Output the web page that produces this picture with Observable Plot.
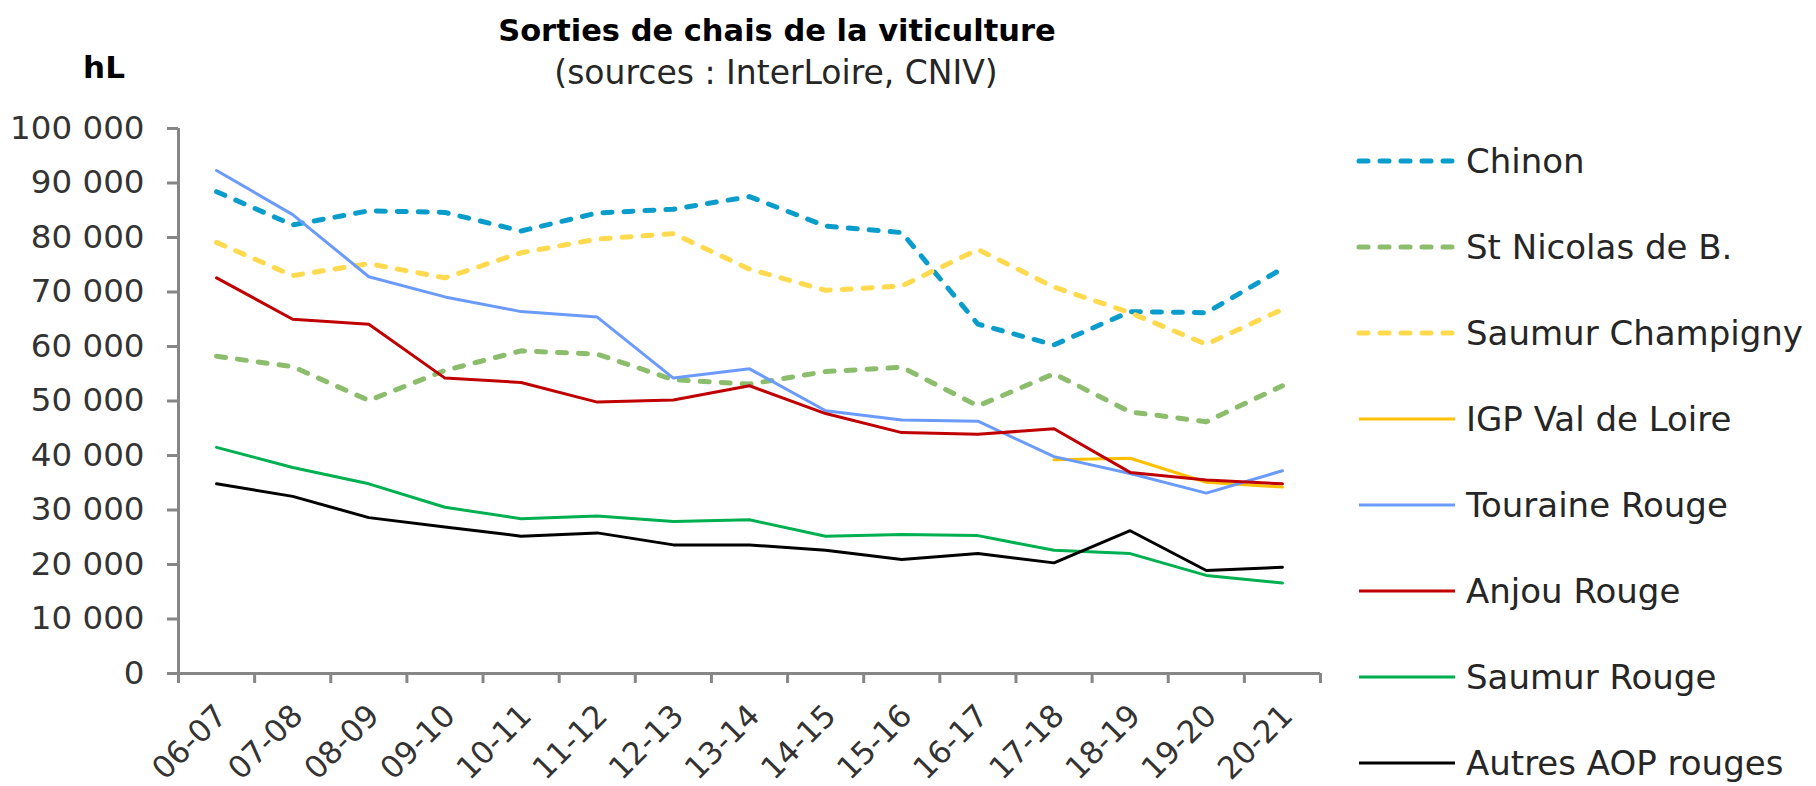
<!DOCTYPE html>
<html>
<head>
<meta charset="utf-8">
<script src="https://cdn.jsdelivr.net/npm/d3@7"></script>
<script src="https://cdn.jsdelivr.net/npm/@observablehq/plot@0.6"></script>
<style>
html, body { margin: 0; padding: 0; background: #fff; }
#wrap { position: relative; width: 1816px; height: 786px; overflow: hidden; font-family: "DejaVu Sans", sans-serif; }
#wrap svg { position: absolute; left: 0; top: 0; }
</style>
</head>
<body>
<div id="wrap"></div>
<script>
// ---- Data ----
const categories = ["06-07","07-08","08-09","09-10","10-11","11-12","12-13","13-14","14-15","15-16","16-17","17-18","18-19","19-20","20-21"];

const chinon      = [88400, 82300, 84900, 84600, 81200, 84500, 85200, 87500, 82100, 80900, 64100, 60300, 66400, 66200, 74300];
const stNicolas   = [58200, 56300, 50100, 55600, 59200, 58600, 53900, 53100, 55400, 56200, 49100, 55000, 48000, 46200, 52800];
const champigny   = [79100, 73000, 75200, 72600, 77200, 79700, 80700, 74200, 70300, 71100, 77800, 70900, 66200, 60400, 66800];
const igpValLoire = [null, null, null, null, null, null, null, null, null, null, null, 39200, 39500, 35100, 34200];
const touraine    = [92300, 84200, 72800, 69100, 66400, 65400, 54200, 55900, 48200, 46500, 46300, 39800, 36700, 33100, 37200];
const anjou       = [72600, 65000, 64100, 54200, 53400, 49800, 50200, 52800, 47700, 44200, 43900, 44900, 36900, 35500, 34800];
const saumurRouge = [41500, 37800, 34800, 30500, 28400, 28900, 27900, 28200, 25200, 25500, 25300, 22600, 22000, 18000, 16600];
const autres      = [34800, 32500, 28600, 26900, 25200, 25800, 23600, 23600, 22600, 20900, 22000, 20300, 26200, 18900, 19500];

const seriesNames  = ["Chinon", "St Nicolas de B.", "Saumur Champigny", "IGP Val de Loire", "Touraine Rouge", "Anjou Rouge", "Saumur Rouge", "Autres AOP rouges"];
const seriesValues = [chinon, stNicolas, champigny, igpValLoire, touraine, anjou, saumurRouge, autres];
const seriesColors = ["#0A9DCB", "#8CBD6C", "#FFD94E", "#FFC000", "#6B9BFA", "#C00000", "#00B050", "#000000"];
const seriesDashed = [true, true, true, false, false, false, false, false];

const yTicks = [0, 10000, 20000, 30000, 40000, 50000, 60000, 70000, 80000, 90000, 100000];

const title = "Sorties de chais de la viticulture";
const subtitle = "(sources : InterLoire, CNIV)";
const unit = "hL";

// ---- Build table ----
const table = [];
seriesNames.forEach((name, s) => {
  seriesValues[s].forEach((v, i) => {
    if (v != null) table.push({series: name, i, season: categories[i], value: v});
  });
});

const fmt = d => d3.format(",")(d).replace(/,/g, " ");
const axisColor = "#868686";
const textColor = "#333333";

const lineMarks = seriesNames.map((name, s) =>
  Plot.line(table.filter(d => d.series === name), {
    x: "i", y: "value",
    stroke: seriesColors[s],
    strokeWidth: seriesDashed[s] ? 5 : 3,
    strokeDasharray: seriesDashed[s] ? "9,12" : null,
    strokeLinecap: "round",
    strokeLinejoin: "round"
  })
);

const plot = Plot.plot({
  width: 1816,
  height: 786,
  marginLeft: 178,
  marginRight: 496,
  marginTop: 128,
  marginBottom: 113,
  x: {type: "linear", domain: [-0.5, categories.length - 0.5], label: null},
  y: {domain: [0, 100000], label: null},
  style: {fontFamily: "DejaVu Sans, sans-serif", fontSize: "32px", color: textColor, background: "transparent", overflow: "visible"},
  marks: [
    Plot.axisY(yTicks, {tickSize: 11, tickPadding: 23, tickFormat: fmt, stroke: axisColor, strokeWidth: 3, fill: textColor, fontSize: 32.5}),
    Plot.axisX(d3.range(categories.length + 1).map(k => k - 0.5), {tickSize: 10, tickFormat: () => "", stroke: axisColor, strokeWidth: 3}),
    Plot.axisX(d3.range(categories.length), {
      tickSize: 0, tickPadding: 37, tickRotate: -45,
      tickFormat: i => categories[i],
      textAnchor: "end", lineAnchor: "middle", dx: 5,
      fill: textColor, fontSize: 31
    }),
    Plot.ruleX([-0.5], {y1: 0, y2: 100000, stroke: axisColor, strokeWidth: 3}),
    Plot.ruleY([0], {x1: -0.5, x2: categories.length - 0.5, stroke: axisColor, strokeWidth: 3}),
    ...lineMarks
  ]
});

const wrap = document.getElementById("wrap");
wrap.appendChild(plot);

// ---- Title, unit, legend overlay ----
const svg = d3.select(wrap).append("svg")
  .attr("width", 1816).attr("height", 786)
  .style("font-family", "DejaVu Sans, sans-serif");

svg.append("text").attr("x", 777).attr("y", 41).attr("text-anchor", "middle")
  .attr("font-size", 30.5).attr("font-weight", "bold").attr("fill", "#000").text(title);
svg.append("text").attr("x", 776).attr("y", 84).attr("text-anchor", "middle")
  .attr("font-size", 33).attr("fill", "#262626").text(subtitle);
svg.append("text").attr("x", 104).attr("y", 78).attr("text-anchor", "middle")
  .attr("font-size", 31).attr("font-weight", "bold").attr("fill", "#000").text(unit);

seriesNames.forEach((name, s) => {
  const y = 161 + s * 86;
  svg.append("line")
    .attr("x1", 1359).attr("x2", 1455).attr("y1", y).attr("y2", y)
    .attr("stroke", seriesColors[s])
    .attr("stroke-width", seriesDashed[s] ? 5 : 3)
    .attr("stroke-dasharray", seriesDashed[s] ? "9,12" : null)
    .attr("stroke-linecap", seriesDashed[s] ? "round" : "butt");
  svg.append("text").attr("x", 1466).attr("y", y + 12)
    .attr("font-size", 34).attr("fill", "#262626").text(name);
});
</script>
</body>
</html>
